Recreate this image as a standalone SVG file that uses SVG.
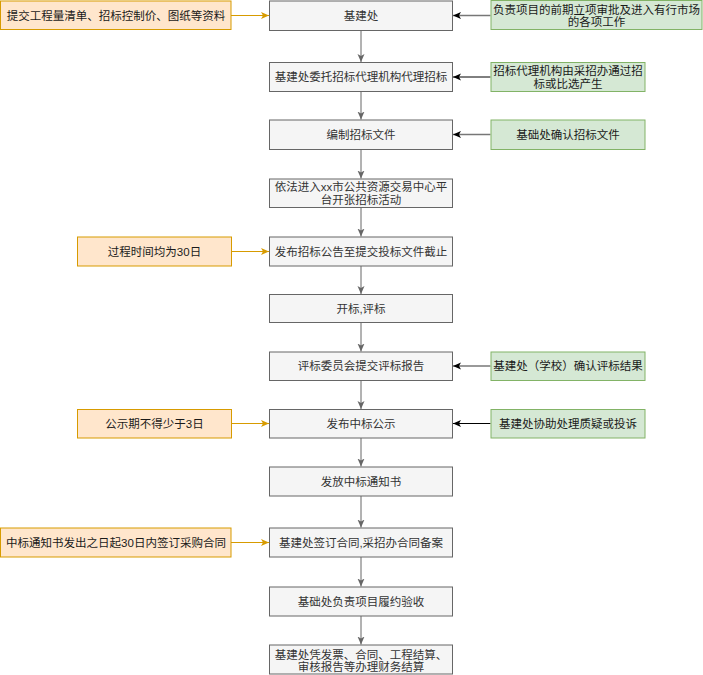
<svg xmlns="http://www.w3.org/2000/svg" width="703" height="675" viewBox="0 0 703 675">
<defs>
<style>
text{font-family:"Liberation Sans","Noto Sans CJK SC",sans-serif;font-size:11.5px;text-anchor:middle;dominant-baseline:central}
.main rect{fill:#f5f5f5;stroke:#666666;stroke-width:1}
.main text{fill:#333333}
.org rect{fill:#ffe6cc;stroke:#d79b00;stroke-width:1}
.org text{fill:#1a1a1a}
.grn rect{fill:#d5e8d4;stroke:#82b366;stroke-width:1}
.grn text{fill:#1a1a1a}
.v{stroke:#666666;stroke-width:1;fill:none;marker-end:url(#ag)}
.o{stroke:#d79b00;stroke-width:1;fill:none;marker-end:url(#ao)}
.g{stroke:#777777;stroke-width:1.5;fill:none;marker-end:url(#ak)}
.k{stroke:#000000;stroke-width:1;fill:none;marker-end:url(#ak)}
</style>
<marker id="ag" markerUnits="userSpaceOnUse" markerWidth="9" markerHeight="8" refX="8" refY="4" orient="auto"><path d="M0,0.5 L8,4 L0,7.5 L2,4 Z" fill="#666666"/></marker>
<marker id="ao" markerUnits="userSpaceOnUse" markerWidth="9" markerHeight="8" refX="8" refY="4" orient="auto"><path d="M0,0.5 L8,4 L0,7.5 L2,4 Z" fill="#d79b00"/></marker>
<marker id="ak" markerUnits="userSpaceOnUse" markerWidth="9" markerHeight="8" refX="8" refY="4" orient="auto"><path d="M0,0.5 L8,4 L0,7.5 L2,4 Z" fill="#000000"/></marker>
</defs>
<rect width="703" height="675" fill="#ffffff"/>
<g id="connectors">
<path class="v" d="M361,30.5 V62"/>
<path class="v" d="M361,91.5 V119.5"/>
<path class="v" d="M361,149.5 V178.5"/>
<path class="v" d="M361,207.5 V236.5"/>
<path class="v" d="M361,266 V294"/>
<path class="v" d="M361,322.5 V351.5"/>
<path class="v" d="M361,380.5 V409"/>
<path class="v" d="M361,438 V466.5"/>
<path class="v" d="M361,496 V527.5"/>
<path class="v" d="M361,557 V586.5"/>
<path class="v" d="M361,616 V644.5"/>
<path class="o" d="M231,15.5 H269"/>
<path class="o" d="M231.5,251.5 H269"/>
<path class="o" d="M231.5,423.5 H269"/>
<path class="o" d="M231,542.5 H269"/>
<path class="g" d="M490.5,15.5 H453"/>
<path class="k" d="M490.5,77 H453"/>
<path class="g" d="M490.5,134.5 H453"/>
<path class="g" d="M490.5,366 H453"/>
<path class="k" d="M490.5,423.5 H453"/>
</g>
<g id="n1" class="main"><rect x="269.5" y="1" width="183" height="29.5"/><text x="361" y="16">基建处</text></g>
<g id="n2" class="main"><rect x="269.5" y="62.5" width="183" height="29"/><text x="361" y="77">基建处委托招标代理机构代理招标</text></g>
<g id="n3" class="main"><rect x="269.5" y="120" width="183" height="29.5"/><text x="361" y="134.5">编制招标文件</text></g>
<g id="n4" class="main"><rect x="269.5" y="179" width="183" height="28.5"/><text x="361" y="187">依法进入xx市公共资源交易中心平</text><text x="361" y="199.5">台开张招标活动</text></g>
<g id="n5" class="main"><rect x="269.5" y="237" width="183" height="29"/><text x="361" y="251.5">发布招标公告至提交投标文件截止</text></g>
<g id="n6" class="main"><rect x="269.5" y="294.5" width="183" height="28"/><text x="361" y="308.5">开标,评标</text></g>
<g id="n7" class="main"><rect x="269.5" y="352" width="183" height="28.5"/><text x="361" y="366">评标委员会提交评标报告</text></g>
<g id="n8" class="main"><rect x="269.5" y="409.5" width="183" height="28.5"/><text x="361" y="423.5">发布中标公示</text></g>
<g id="n9" class="main"><rect x="269.5" y="467" width="183" height="29"/><text x="361" y="481.5">发放中标通知书</text></g>
<g id="n10" class="main"><rect x="269.5" y="528" width="183" height="29"/><text x="361" y="542.5">基建处签订合同,采招办合同备案</text></g>
<g id="n11" class="main"><rect x="269.5" y="587" width="183" height="29"/><text x="361" y="601.5">基础处负责项目履约验收</text></g>
<g id="n12" class="main"><rect x="269.5" y="645" width="183" height="29"/><text x="361" y="654.5">基建处凭发票、合同、工程结算、</text><text x="361" y="666.5">审核报告等办理财务结算</text></g>
<g id="o1" class="org"><rect x="0.5" y="1" width="230.5" height="28.5"/><text x="116" y="15.5">提交工程量清单、招标控制价、图纸等资料</text></g>
<g id="o2" class="org"><rect x="77.5" y="237" width="154" height="29"/><text x="154.5" y="251.5">过程时间均为30日</text></g>
<g id="o3" class="org"><rect x="77.5" y="409.5" width="154" height="28.5"/><text x="154.5" y="423.5">公示期不得少于3日</text></g>
<g id="o4" class="org"><rect x="0.5" y="528" width="230.5" height="29"/><text x="116" y="542.5">中标通知书发出之日起30日内签订采购合同</text></g>
<g id="g1" class="grn"><rect x="491" y="0.5" width="211" height="29"/><text x="596.5" y="9.5">负责项目的前期立项审批及进入有行市场</text><text x="596.5" y="22">的各项工作</text></g>
<g id="g2" class="grn"><rect x="491" y="62.5" width="154" height="29"/><text x="568" y="70.5">招标代理机构由采招办通过招</text><text x="568" y="83.5">标或比选产生</text></g>
<g id="g3" class="grn"><rect x="491" y="120" width="154" height="29.5"/><text x="568" y="134.5">基础处确认招标文件</text></g>
<g id="g4" class="grn"><rect x="491" y="352" width="154" height="28.5"/><text x="568" y="366">基建处（学校）确认评标结果</text></g>
<g id="g5" class="grn"><rect x="491" y="409.5" width="154" height="28.5"/><text x="568" y="423.5">基建处协助处理质疑或投诉</text></g>
</svg>
